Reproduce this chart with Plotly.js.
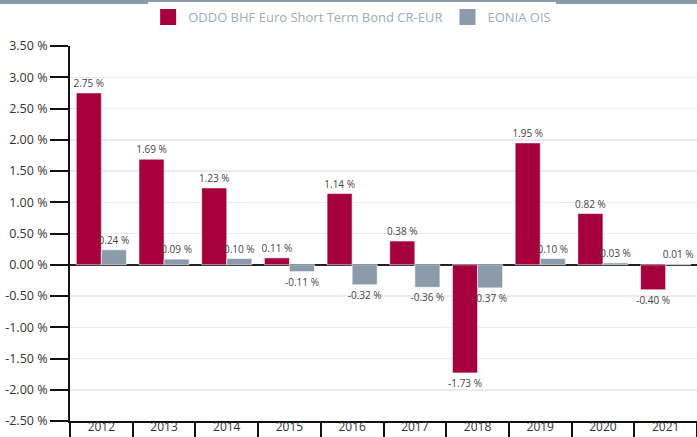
<!DOCTYPE html>
<html>
<head>
<meta charset="utf-8">
<script src="https://cdn.plot.ly/plotly-3.0.1.min.js"></script>
<style>html,body{margin:0;padding:0;background:#fff;}#chart{width:697px;height:437px;}</style>
</head>
<body>
<div id="chart"></div>
<script>
const years = ['2012','2013','2014','2015','2016','2017','2018','2019','2020','2021'];
const fundName = 'ODDO BHF Euro Short Term Bond CR-EUR';
const benchName = 'EONIA OIS';
const fundValues = [2.75, 1.69, 1.23, 0.11, 1.14, 0.38, -1.73, 1.95, 0.82, -0.40];
const benchValues = [0.24, 0.09, 0.10, -0.11, -0.32, -0.36, -0.37, 0.10, 0.03, 0.01];
const yTicks = [-2.5, -2, -1.5, -1, -0.5, 0, 0.5, 1, 1.5, 2, 2.5, 3, 3.5];

const fundColor = '#a5003c';
const benchColor = '#8b9baa';
const font = '"Open Sans", "Noto Sans", sans-serif';

function barTrace(name, vals, color) {
  return {
    type: 'bar', name: name, x: years, y: vals,
    marker: {color: color, line: {color: 'rgba(255,255,255,0.6)', width: 1}},
    texttemplate: '%{y:.2f} %', textposition: 'outside', cliponaxis: false,
    constraintext: 'none',
    textfont: {family: font, size: 10, color: '#444'},
    showlegend: false, hoverinfo: 'x+y'
  };
}
function legendTrace(name, color) {
  return {
    type: 'scatter', mode: 'markers', name: name, x: [null], y: [null],
    marker: {symbol: 'square', size: 16, color: color}, showlegend: true
  };
}

const data = [
  barTrace(fundName, fundValues, fundColor),
  barTrace(benchName, benchValues, benchColor),
  legendTrace(fundName, fundColor),
  legendTrace(benchName, benchColor)
];

const layout = {
  width: 697, height: 437,
  margin: {l: 70, r: 0, t: 46, b: 16},
  paper_bgcolor: '#fff', plot_bgcolor: '#fff',
  font: {family: font, color: '#333'},
  barmode: 'group', bargap: 0.2, bargroupgap: 0,
  showlegend: true,
  legend: {orientation: 'h', x: 0.45, xanchor: 'center', y: 1.077, yanchor: 'middle',
           font: {family: font, size: 13, color: '#a3abb5'}, itemwidth: 30, tracegroupgap: 0},
  xaxis: {
    type: 'category', showgrid: false, zeroline: false,
    showline: true, linecolor: '#111', linewidth: 2,
    ticks: 'outside', tickson: 'boundaries', ticklen: 16, tickwidth: 2, tickcolor: '#111',
    ticklabelstandoff: -6,
    tickfont: {family: font, size: 12, color: '#333'}
  },
  yaxis: {
    range: [-2.5, 3.5], tickvals: yTicks,
    ticktext: yTicks.map(v => v.toFixed(2) + ' %'),
    showgrid: true, gridcolor: '#ebebeb', gridwidth: 1.5,
    zeroline: true, zerolinecolor: '#222', zerolinewidth: 1.5,
    showline: true, linecolor: '#111', linewidth: 2,
    ticks: 'outside', ticklen: 18, tickwidth: 2, tickcolor: '#111',
    tickfont: {family: font, size: 12.5, color: '#333'}
  },
  shapes: [{type: 'rect', xref: 'paper', yref: 'paper', x0: -0.2, x1: 1, y0: 1.112, y1: 1.13,
            fillcolor: '#8a9aa8', line: {width: 0}, layer: 'above'}]
};

Plotly.newPlot('chart', data, layout, {displayModeBar: false, staticPlot: true});
</script>
</body>
</html>
